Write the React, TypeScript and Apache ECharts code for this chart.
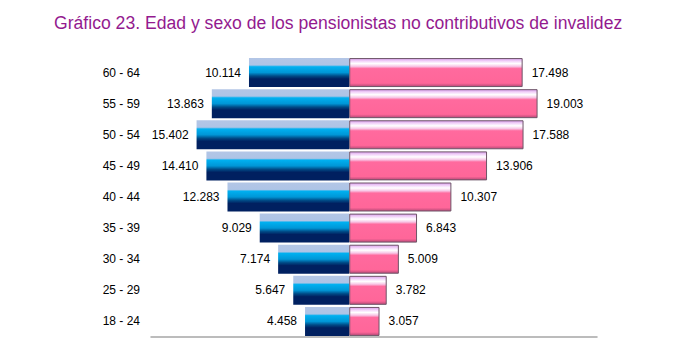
import React, { useEffect, useRef } from "react";
import * as echarts from "echarts";

const categories = ["18 - 24", "25 - 29", "30 - 34", "35 - 39", "40 - 44", "45 - 49", "50 - 54", "55 - 59", "60 - 64"];
const hombres = [4458, 5647, 7174, 9029, 12283, 14410, 15402, 13863, 10114];
const mujeres = [3057, 3782, 5009, 6843, 10307, 13906, 17588, 19003, 17498];
const titleText = "Gráfico 23. Edad y sexo de los pensionistas no contributivos de invalidez";

const fmt = (v: number) => {
  const s = Math.round(Math.abs(v)).toString();
  return s.replace(/\B(?=(\d{3})+(?!\d))/g, ".");
};

export default function App() {
  const ref = useRef<HTMLDivElement>(null);
  useEffect(() => {
    if (!ref.current) return;
    const chart = echarts.init(ref.current, undefined, { renderer: "svg" });
    const blue = new echarts.graphic.LinearGradient(0, 0, 0, 1, [
      { offset: 0, color: "#b3c6e6" },
      { offset: 0.24, color: "#aec4e6" },
      { offset: 0.3, color: "#00b0f0" },
      { offset: 0.5, color: "#0096d6" },
      { offset: 0.62, color: "#004a86" },
      { offset: 0.72, color: "#002060" },
      { offset: 1, color: "#002060" },
    ]);
    const pink = new echarts.graphic.LinearGradient(0, 0, 0, 1, [
      { offset: 0, color: "#d9a0ec" },
      { offset: 0.1, color: "#f4d8fa" },
      { offset: 0.18, color: "#ffffff" },
      { offset: 0.28, color: "#f7c6e6" },
      { offset: 0.36, color: "#ff6a9e" },
      { offset: 0.88, color: "#ff6699" },
      { offset: 1, color: "#b84a78" },
    ]);
    chart.setOption({
      animation: false,
      title: {
        text: titleText,
        left: 49,
        top: 9,
        textStyle: { color: "#931a8f", fontSize: 17.6, fontWeight: "normal", fontFamily: "Liberation Sans" },
      },
      grid: { left: 151, right: 91, top: 57, bottom: 25 },
      xAxis: {
        type: "value",
        min: -20000,
        max: 25000,
        axisLabel: { show: false },
        axisTick: { show: false },
        splitLine: { show: false },
        axisLine: { show: true, lineStyle: { color: "#a6a6a6", width: 1.5 } },
      },
      yAxis: {
        type: "category",
        data: categories,
        axisLine: { show: false },
        axisTick: { show: false },
        axisLabel: { margin: 11, color: "#000", fontSize: 12, fontFamily: "Liberation Sans" },
      },
      series: [
        {
          name: "Hombres",
          type: "bar",
          stack: "t",
          barWidth: 29,
          data: hombres.map((v) => -v),
          itemStyle: { color: blue },
          label: {
            show: true,
            position: "left",
            distance: 8,
            color: "#000",
            fontSize: 12,
            fontFamily: "Liberation Sans",
            formatter: (p: any) => fmt(p.value),
          },
        },
        {
          name: "Mujeres",
          type: "bar",
          stack: "t",
          barWidth: 29,
          data: mujeres,
          itemStyle: { color: pink, borderColor: "#6e5568", borderWidth: 1 },
          label: {
            show: true,
            position: "right",
            distance: 9,
            color: "#000",
            fontSize: 12,
            fontFamily: "Liberation Sans",
            formatter: (p: any) => fmt(p.value),
          },
        },
      ],
    });
    return () => chart.dispose();
  }, []);
  return <div ref={ref} style={{ width: 688, height: 362, margin: -8 }} />;
}
